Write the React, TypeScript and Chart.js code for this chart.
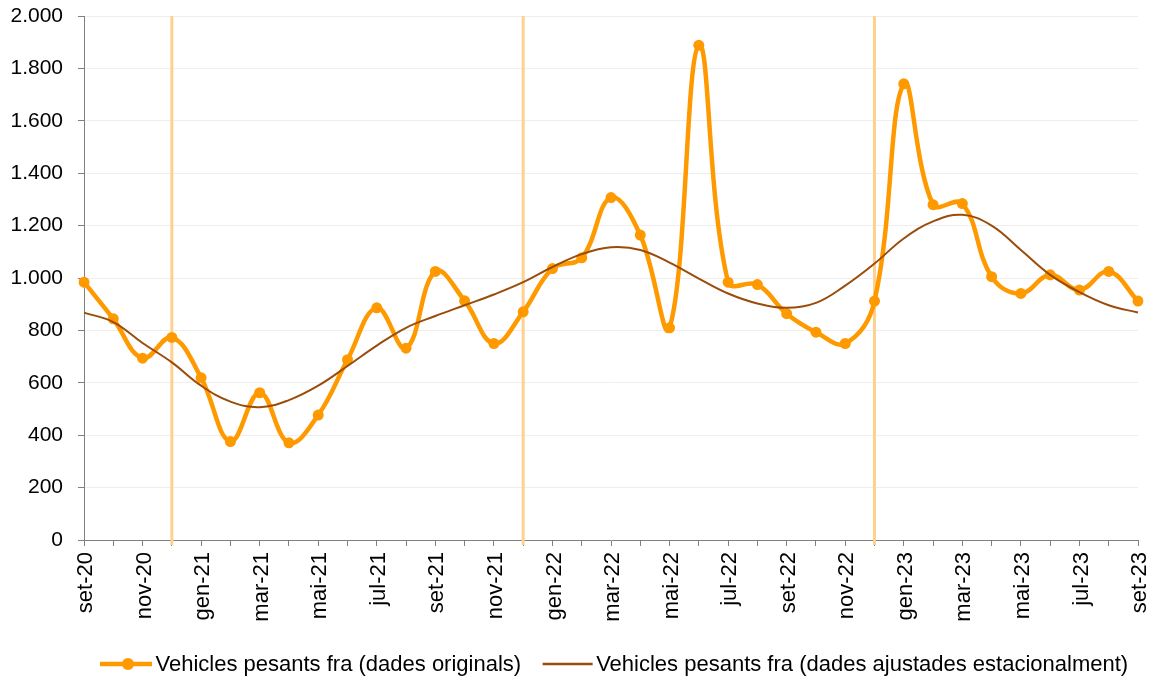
import React, { useEffect, useRef } from 'react';
import { Chart, registerables } from 'chart.js';

Chart.register(...registerables);

const labels = [
  'set-20', 'oct-20', 'nov-20', 'des-20', 'gen-21', 'feb-21', 'mar-21', 'abr-21', 'mai-21', 'jun-21', 'jul-21', 'ago-21',
  'set-21', 'oct-21', 'nov-21', 'des-21', 'gen-22', 'feb-22', 'mar-22', 'abr-22', 'mai-22', 'jun-22', 'jul-22', 'ago-22',
  'set-22', 'oct-22', 'nov-22', 'des-22', 'gen-23', 'feb-23', 'mar-23', 'abr-23', 'mai-23', 'jun-23', 'jul-23', 'ago-23',
  'set-23',
];

const originals = [
  984, 844, 694, 773, 619, 376, 562, 371, 477, 688, 886, 732,
  1025, 913, 750, 871, 1036, 1077, 1307, 1164, 810, 1888, 984, 975,
  864, 793, 750, 912, 1741, 1280, 1284, 1005, 941, 1012, 954, 1025,
  912,
];

const adjusted = [
  868, 832, 752, 678, 589, 528, 507, 534, 589, 664, 742, 810,
  855, 896, 937, 984, 1042, 1091, 1117, 1107, 1059, 998, 941, 903,
  886, 905, 971, 1055, 1151, 1216, 1241, 1200, 1107, 1012, 946, 896,
  868,
];

const seriesNames = [
  'Vehicles pesants fra (dades originals)',
  'Vehicles pesants fra (dades ajustades estacionalment)',
];

const markerMonths = ['des-20', 'des-21', 'des-22'];

const ORANGE = '#FF9900';
const BROWN = '#9A4C0B';
const FONT = '"Liberation Sans", Arial, sans-serif';

const fmt = (v: number) => String(v).replace(/\B(?=(\d{3})+(?!\d))/g, '.');

const markerPlugin = {
  id: 'markerLines',
  beforeDatasetsDraw(chart: any) {
    const { ctx, chartArea, scales } = chart;
    ctx.save();
    ctx.strokeStyle = '#FFD08F';
    ctx.lineWidth = 3;
    markerMonths.forEach((m) => {
      const px = scales.x.getPixelForValue(labels.indexOf(m));
      ctx.beginPath();
      ctx.moveTo(px, chartArea.top);
      ctx.lineTo(px, chartArea.bottom + 5);
      ctx.stroke();
    });
    ctx.restore();
  },
};

const legendPlugin = {
  id: 'lineLegend',
  afterDraw(chart: any) {
    const { ctx } = chart;
    const y = chart.height - 20;
    let x = 100;
    ctx.save();
    ctx.font = `22px ${FONT}`;
    ctx.textBaseline = 'middle';
    ctx.textAlign = 'left';
    chart.data.datasets.forEach((ds: any, i: number) => {
      const w = i === 0 ? 52 : 50;
      ctx.strokeStyle = ds.borderColor;
      ctx.lineWidth = i === 0 ? 4.5 : 2.5;
      ctx.beginPath();
      ctx.moveTo(x, y);
      ctx.lineTo(x + w, y);
      ctx.stroke();
      if (ds.pointRadius > 0) {
        ctx.fillStyle = ds.borderColor;
        ctx.beginPath();
        ctx.arc(x + w / 2 + 2, y, 6, 0, Math.PI * 2);
        ctx.fill();
      }
      x += w + 3.5;
      ctx.fillStyle = '#000';
      ctx.fillText(ds.label, x, y + 1);
      x += ctx.measureText(ds.label).width + 21.5;
    });
    ctx.restore();
  },
};

export default function App() {
  const ref = useRef<HTMLCanvasElement | null>(null);

  useEffect(() => {
    if (!ref.current) return;
    const chart = new Chart(ref.current, {
      type: 'line',
      data: {
        labels,
        datasets: [
          {
            label: seriesNames[0],
            data: originals,
            borderColor: ORANGE,
            backgroundColor: ORANGE,
            borderWidth: 4.5,
            pointRadius: 5.5,
            pointBorderWidth: 0,
            pointBackgroundColor: ORANGE,
            tension: 0.4,
            order: 2,
          },
          {
            label: seriesNames[1],
            data: adjusted,
            borderColor: BROWN,
            backgroundColor: BROWN,
            borderWidth: 2,
            pointRadius: 0,
            tension: 0.4,
            order: 1,
          },
        ],
      },
      options: {
        responsive: false,
        animation: false,
        events: [],
        layout: { padding: { left: 0, right: 19, top: 16, bottom: 31 } },
        plugins: {
          tooltip: { enabled: false },
          legend: { display: false },
        },
        scales: {
          x: {
            afterFit: (s: any) => {
              s.height = 113;
              s.paddingLeft = 0;
              s.paddingRight = 0;
            },
            grid: { drawOnChartArea: false, tickLength: 6, tickColor: '#808080' },
            border: { color: '#808080' },
            ticks: {
              autoSkip: false,
              maxRotation: 90,
              minRotation: 90,
              padding: 6,
              labelOffset: 2,
              color: '#000',
              font: { family: FONT, size: 22 },
              callback: (_v: any, i: number) => (i % 2 === 0 ? labels[i] : ''),
            },
          },
          y: {
            min: 0,
            max: 2000,
            afterFit: (s: any) => {
              s.width = 84;
              s.paddingTop = 0;
              s.paddingBottom = 0;
            },
            grid: { color: '#EEEEEE', tickLength: 6, tickColor: '#808080' },
            border: { color: '#808080' },
            ticks: {
              stepSize: 200,
              padding: 15,
              color: '#000',
              font: { family: FONT, size: 21 },
              callback: (v: any) => fmt(Number(v)),
            },
          },
        },
      },
      plugins: [markerPlugin, legendPlugin],
    } as any);
    return () => chart.destroy();
  }, []);

  return (
    <div style={{ position: 'fixed', left: 0, top: 0, width: 1157, height: 684, background: '#fff' }}>
      <canvas ref={ref} width={1157} height={684} style={{ width: 1157, height: 684, display: 'block' }} />
    </div>
  );
}
